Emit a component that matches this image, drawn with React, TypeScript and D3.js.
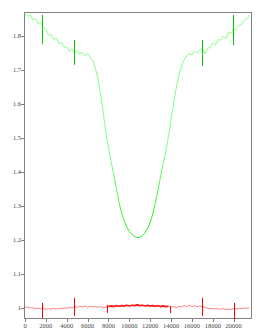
import * as React from 'react';
import { scaleLinear, line } from 'd3';

const xs = [
  0, 250, 500, 750, 1000, 1250, 1500, 1750, 2000, 2250, 2500, 2750, 3000, 3250, 3500, 3750,
  4000, 4250, 4500, 4750, 5000, 5250, 5500, 5750, 6000, 6250, 6500, 6750, 7000, 7250, 7500, 7750,
  8000, 8250, 8500, 8750, 9000, 9250, 9500, 9750, 10000, 10250, 10500, 10750, 11000, 11250, 11500, 11750,
  12000, 12250, 12500, 12750, 13000, 13250, 13500, 13750, 14000, 14250, 14500, 14750, 15000, 15250, 15500, 15750,
  16000, 16250, 16500, 16750, 17000, 17250, 17500, 17750, 18000, 18250, 18500, 18750, 19000, 19250, 19500, 19750,
  20000, 20250, 20500, 20750, 21000, 21250, 21500,
];

const greenVals = [
  1.866, 1.858, 1.861, 1.848, 1.851, 1.836, 1.840, 1.824, 1.820, 1.804, 1.804, 1.790, 1.793, 1.778, 1.781, 1.766,
  1.769, 1.755, 1.762, 1.750, 1.757, 1.746, 1.752, 1.742, 1.748, 1.738, 1.728, 1.705, 1.672, 1.628, 1.575, 1.515,
  1.470, 1.430, 1.392, 1.352, 1.312, 1.280, 1.256, 1.238, 1.225, 1.216, 1.210, 1.207, 1.208, 1.213, 1.221, 1.234,
  1.252, 1.278, 1.310, 1.348, 1.388, 1.426, 1.462, 1.505, 1.555, 1.603, 1.648, 1.685, 1.712, 1.730, 1.742, 1.748,
  1.744, 1.756, 1.748, 1.760, 1.762, 1.747, 1.764, 1.766, 1.780, 1.773, 1.790, 1.787, 1.799, 1.793, 1.811, 1.809,
  1.821, 1.819, 1.832, 1.833, 1.847, 1.849, 1.862,
];

const redVals = [
  1.002, 1.003, 1.000, 1.001, 0.998, 1.000, 0.997, 0.999, 0.996, 0.998, 0.996, 0.999, 0.997, 0.999, 0.998, 1.000,
  0.999, 1.002, 1.000, 1.004, 1.002, 1.005, 1.003, 1.006, 1.002, 1.005, 1.003, 1.005, 1.002, 1.004, 1.001, 1.003,
  1.004, 1.006, 1.004, 1.007, 1.005, 1.007, 1.006, 1.008, 1.006, 1.008, 1.007, 1.009, 1.007, 1.008, 1.006, 1.008,
  1.006, 1.007, 1.005, 1.007, 1.004, 1.006, 1.004, 1.005, 1.003, 1.004, 1.001, 1.005, 1.003, 1.007, 1.004, 1.008,
  1.004, 1.007, 1.003, 1.006, 1.004, 1.002, 0.999, 0.998, 0.999, 0.997, 0.998, 0.996, 0.998, 0.995, 0.997, 0.996,
  0.998, 0.997, 0.999, 0.998, 1.000, 0.999, 1.001,
];

// glitch spikes
const greenSpikeX = [1650, 4700, 16950, 19930];
const greenSpikeTop = [1.862, 1.788, 1.788, 1.862];
const greenSpikeBottom = [1.776, 1.715, 1.712, 1.773];
const redSpikeX = [1650, 4700, 7850, 13900, 16950, 20000];
const redSpikeTop = [1.015, 1.029, 1.009, 1.005, 1.029, 1.015];
const redSpikeBottom = [0.971, 0.976, 0.985, 0.985, 0.976, 0.968];

const yTicks = [1, 1.1, 1.2, 1.3, 1.4, 1.5, 1.6, 1.7, 1.8];
const xTicks = [0, 2000, 4000, 6000, 8000, 10000, 12000, 14000, 16000, 18000, 20000];

const W = 267;
const H = 333;
const margin = { top: 13, right: 15, bottom: 14, left: 25 };

export default function App() {
  const x = scaleLinear().domain([0, 21750]).range([margin.left, W - margin.right]);
  const y = scaleLinear().domain([0.9676, 1.8676]).range([H - margin.bottom, margin.top]);

  const pts = (vals: number[]) => xs.map((v, i) => [v, vals[i]] as [number, number]);
  const lineGen = line<[number, number]>().x((d) => x(d[0])).y((d) => y(d[1]));

  const greenPath = lineGen(pts(greenVals)) || '';
  const redPath = lineGen(pts(redVals)) || '';
  const redDense = lineGen(pts(redVals).filter((d) => d[0] >= 7900 && d[0] <= 13900)) || '';

  const fmt = (v: number) => String(Math.round(v * 10) / 10);
  const font = "'Liberation Serif', serif";
  const px = (v: number) => Math.round(v) + 0.5;

  return (
    <svg width={W} height={H} style={{ position: 'absolute', left: 0, top: 0, background: '#fff' }}>
      <defs>
        <linearGradient id="gGrad" gradientUnits="userSpaceOnUse" x1={x(0)} x2={x(21500)} y1={0} y2={0}>
          <stop offset="0" stopColor="#90ff90" />
          <stop offset="0.38" stopColor="#80ff80" />
          <stop offset="0.45" stopColor="#22ee22" />
          <stop offset="0.57" stopColor="#22ee22" />
          <stop offset="0.63" stopColor="#80ff80" />
          <stop offset="1" stopColor="#90ff90" />
        </linearGradient>
      </defs>

      {/* frame */}
      <rect x={px(x(0)) - 1} y={px(margin.top) - 1} width={W - margin.right - margin.left} height={H - margin.top - margin.bottom}
        fill="none" stroke="#808080" strokeWidth={1} />

      {/* y axis */}
      {yTicks.map((t) => (
        <g key={t}>
          <line x1={x(0) - 4} x2={x(0)} y1={px(y(t))} y2={px(y(t))} stroke="#808080" />
          <text x={x(0) - 4} y={y(t)} dy="0.35em" textAnchor="end" fontSize={6.5} fontFamily={font} fill="#444">{fmt(t)}</text>
        </g>
      ))}

      {/* x axis */}
      {xTicks.map((t) => (
        <g key={t}>
          <line x1={px(x(t))} x2={px(x(t))} y1={H - margin.bottom} y2={H - margin.bottom + 3} stroke="#808080" />
          <text x={x(t)} y={H - margin.bottom + 9} textAnchor="middle" fontSize={6.5} fontFamily={font} fill="#444">{t}</text>
        </g>
      ))}

      {/* series */}
      <path d={greenPath} fill="none" stroke="url(#gGrad)" strokeWidth={1} />
      <path d={redPath} fill="none" stroke="#ff8080" strokeWidth={1} />
      <path d={redDense} fill="none" stroke="#ff1010" strokeWidth={1.6} />

      {greenSpikeX.map((s, i) => (
        <line key={'g' + i} x1={px(x(s))} x2={px(x(s))} y1={y(greenSpikeTop[i])} y2={y(greenSpikeBottom[i])} stroke="#00cc00" strokeWidth={1} />
      ))}
      {redSpikeX.map((s, i) => (
        <line key={'r' + i} x1={px(x(s))} x2={px(x(s))} y1={y(redSpikeTop[i])} y2={y(redSpikeBottom[i])} stroke="#ee0000" strokeWidth={1} />
      ))}
    </svg>
  );
}
